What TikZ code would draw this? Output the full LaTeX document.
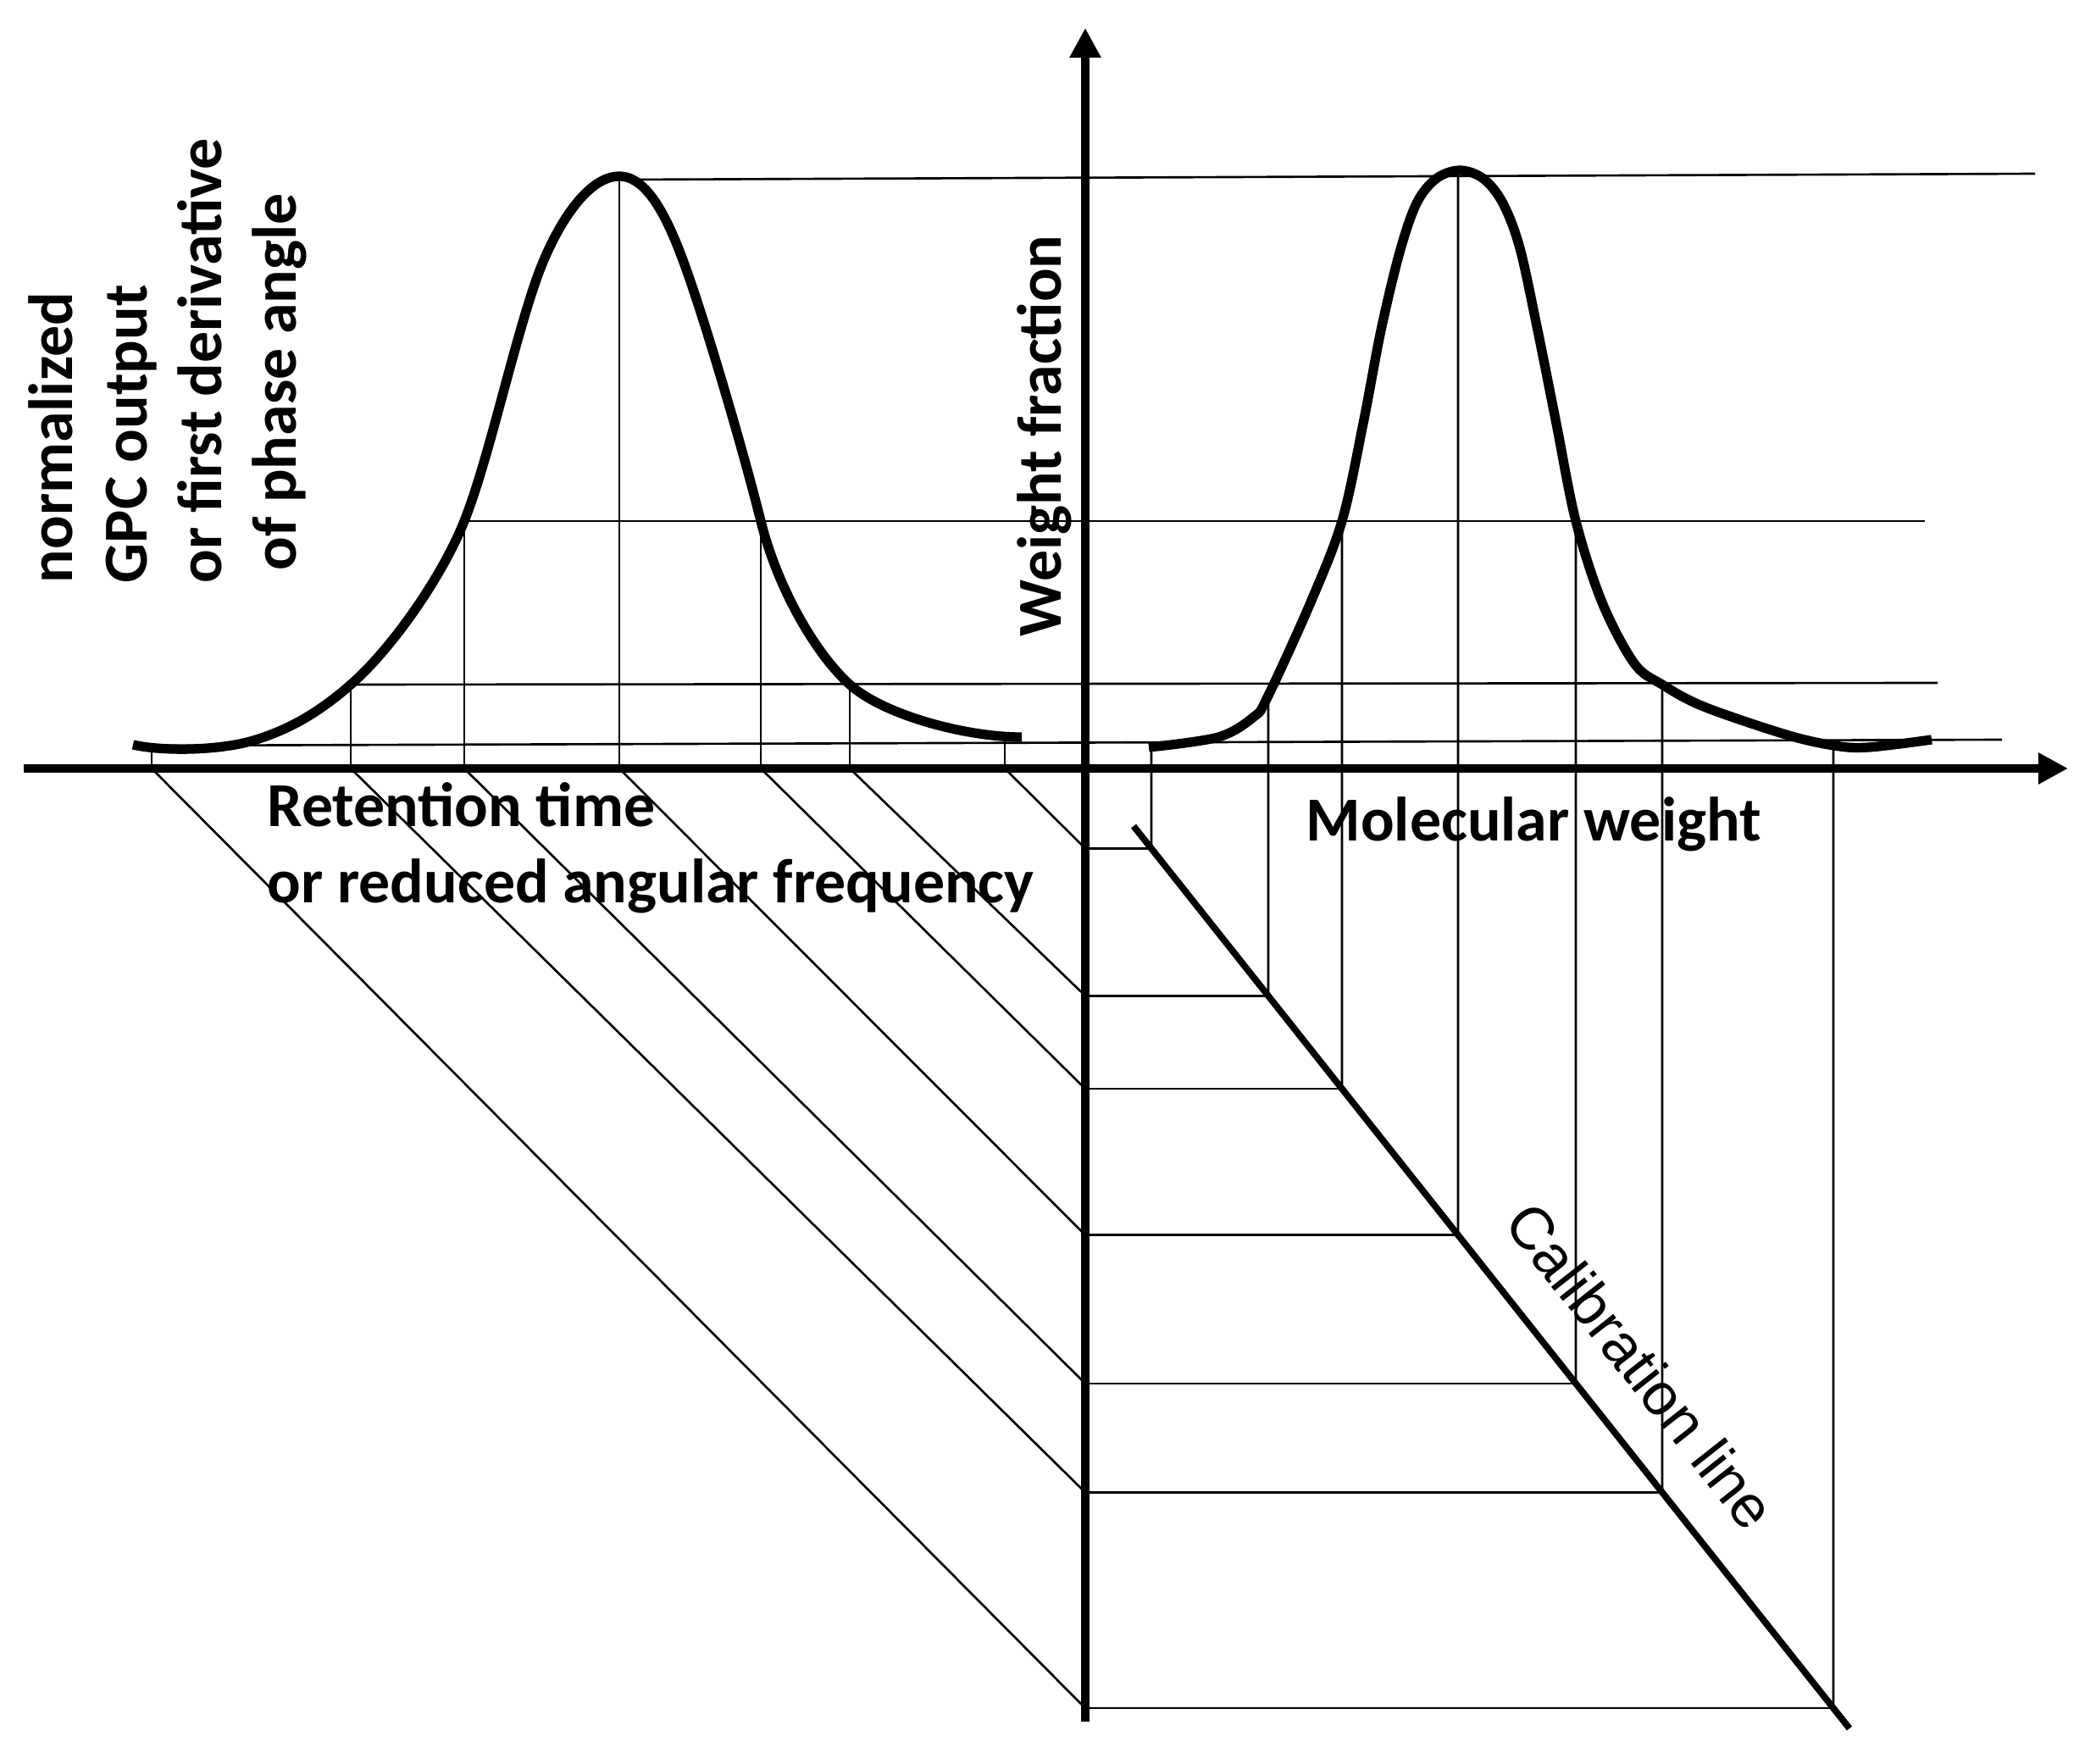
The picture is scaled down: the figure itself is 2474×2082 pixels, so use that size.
\documentclass[tikz,border=0pt]{standalone}
\usepackage{fontspec}
\setmainfont{Carlito}
\newfontfamily\arialfont{Liberation Sans}
\usetikzlibrary{arrows.meta,calc}
\begin{document}
\begin{tikzpicture}[x=0.01cm, y=-0.01cm,
  thinline/.style={line width=0.75pt},
  axisline/.style={line width=3pt, -{Triangle[length=10pt,width=10pt]}},
  curveline/.style={line width=3.2pt, line cap=butt, line join=round},
  calline/.style={line width=2.2pt},
  lbl/.style={font=\fontsize{21}{25}\selectfont\bfseries, inner sep=0pt},
  callbl/.style={font=\arialfont\fontsize{20}{24}\selectfont, inner sep=0pt},
]
\useasboundingbox (0,0) rectangle (2474,2082);

% reference points
\coordinate (O) at (1281,907);
% left peak tick points (on curve)
\coordinate (L1) at (179,880);
\coordinate (L2) at (414,808);
\coordinate (L3) at (548,615);
\coordinate (L4) at (731,208);
\coordinate (L5) at (898,615);
\coordinate (L6) at (1003,808);
\coordinate (L7) at (1186,872);
% right peak tick points (on curve)
\coordinate (R1) at (1359,882);
\coordinate (R2) at (1497,823);
\coordinate (R3) at (1584,615);
\coordinate (R4) at (1721,201);
\coordinate (R5) at (1860,615);
\coordinate (R6) at (1962,808);
\coordinate (R7) at (2164,880);
% calibration line ends
\coordinate (cs) at (1338,975);
\coordinate (ce) at (2183,2040);
% intersections of the verticals with the calibration line
\foreach \i in {1,...,7}{
  \coordinate (R\i b) at ($(R\i)+(0,1500)$);
}
\foreach \i in {1,...,7}{
  \coordinate (C\i) at (intersection of cs--ce and R\i--R\i b);
}
% right ends of long horizontal lines
\coordinate (E4) at (2402,205);
\coordinate (E3) at (2272,615);
\coordinate (E2) at (2287,806);
\coordinate (E1) at (2363,873);

% long horizontal lines
\draw[thinline] (740,212) -- (E4);
\draw[thinline] (L3) -- (E3);
\draw[thinline] (L2) -- (E2);
\draw[thinline] (L1) -- (E1);

% left verticals down to axis
\foreach \i in {1,...,7}
  \draw[thinline] (L\i) -- (L\i |- O);
% right verticals down to the calibration line
\foreach \i in {1,...,7}
  \draw[thinline] (R\i) -- (C\i);
% horizontals from the weight-fraction axis to the calibration line
\foreach \i in {1,...,7}
  \draw[thinline] (C\i -| O) -- (C\i);
% 45-degree transfer lines
\foreach \i/\j in {1/7,2/6,3/5,4/4,5/3,6/2,7/1}
  \draw[thinline] (L\i |- O) -- (C\j -| O);

% calibration line
\draw[calline] (cs) -- (ce);

% curves
\draw[curveline] (157,879)
  .. controls (192,887) and (259,886) .. (299,874)
  .. controls (339,862) and (374,843) .. (L2)
  .. controls (459,769) and (520,685) .. (L3)
  .. controls (576,545) and (605,410) .. (633,330)
  .. controls (653,273) and (691,208) .. (L4)
  .. controls (771,208) and (798,281) .. (820,347)
  .. controls (842,413) and (878,535) .. (L5)
  .. controls (918,695) and (963,772) .. (L6)
  .. controls (1043,844) and (1140,870) .. (1206,870);
\draw[curveline] plot[smooth, tension=0.55] coordinates {(1356,882) (1438,870) (1480,846) (1496,823) (1547,711) (1584,615) (1609,500) (1630,390) (1652,298) (1672,240) (1695,211) (1723,201) (1751,211) (1774,240) (1794,293) (1815,390) (1837,500) (1860,615) (1891,711) (1929,783) (1962,808) (2011,834) (2108,867) (2165,880) (2206,882) (2280,873)};

% axes
\draw[axisline] (1281,2032) -- (1281,33);
\draw[axisline] (28,907) -- (2441,907);

% labels
\node[lbl, rotate=90, anchor=north west, align=left] (ylab) at (33,689)
  {normalized\\GPC output\\or first derivative\\\hspace*{0.2em}of phase angle};
\node[lbl, rotate=90, anchor=base west] (wf) at (1252,752) {Weight fraction};
\node[lbl, anchor=base west] (rt1) at (315,975) {Retention time};
\node[lbl, anchor=base west] (rt2) at (315,1065) {or reduced angular frequency};
\node[lbl, anchor=base west] (mw) at (1541,992) {Molecular weight};
\node[callbl, rotate=-51.8] (cal) at (1937,1612) {Calibration line};
\end{tikzpicture}
\end{document}
